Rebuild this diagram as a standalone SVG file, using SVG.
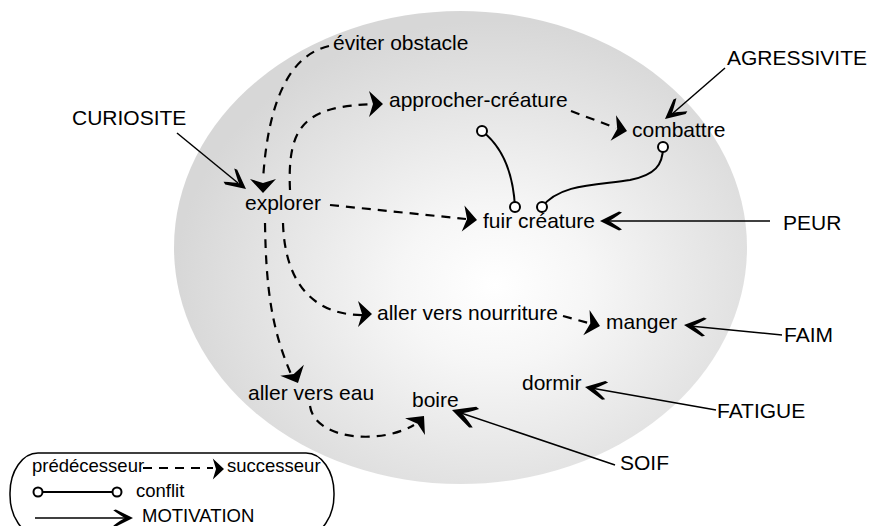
<svg xmlns="http://www.w3.org/2000/svg" xmlns:xlink="http://www.w3.org/1999/xlink" width="870" height="526" viewBox="0 0 870 526">
  <style>
    text { font-family: "Liberation Sans", Arial, sans-serif; font-size: 21px; fill: #000; }
    .legend text { font-size: 18.5px; }
    .succ { fill: none; stroke: #000; stroke-width: 2.2; stroke-dasharray: 9 7; }
    .motiv { fill: none; stroke: #000; stroke-width: 1.5; }
    .conf { fill: none; stroke: #000; stroke-width: 2; }
    .end { fill: #fff; stroke: #000; stroke-width: 2; }
    .head { fill: #000; stroke: none; }
  </style>
  <defs>
    <radialGradient id="bg" cx="0.56" cy="0.58" r="0.56">
      <stop offset="0" stop-color="#ffffff"/>
      <stop offset="0.3" stop-color="#f6f6f6"/>
      <stop offset="1" stop-color="#d7d7d7"/>
    </radialGradient>
    <!-- arrowhead of a successor link, tip at origin, pointing along +x -->
    <path id="dh" d="M0,0 L-14,-13 L-10,0 L-14,13 Z"/>
    <!-- barbed arrowhead of a motivation link -->
    <path id="mh" d="M0,0 L-19,-9.5 L-22,-8.5 Q-13,-2 -9,0 Q-13,2 -22,8.5 L-19,9.5 Z"/>
  </defs>

  <!-- behaviour space -->
  <ellipse cx="460.5" cy="247.5" rx="286.5" ry="236.5" fill="url(#bg)"/>

  <g id="connectors">
    <!-- successor links -->
    <path class="succ" d="M329,46 C290,55 268,100 263,180"/>
    <path class="succ" d="M290,190 C287,125 305,106 375,104"/>
    <path class="succ" d="M571,111 L616,128"/>
    <path class="succ" d="M330,205 L466,219"/>
    <path class="succ" d="M283,223 C285,290 320,316 364,315"/>
    <path class="succ" d="M563,316 L592,324"/>
    <path class="succ" d="M265,223 C266,290 272,330 291,374"/>
    <path class="succ" d="M310,406 C315,440 380,445 414,425"/>
    <use href="#dh" class="head" transform="translate(263,193) rotate(90)"/>
    <use href="#dh" class="head" transform="translate(383,104)"/>
    <use href="#dh" class="head" transform="translate(627,131) rotate(12)"/>
    <use href="#dh" class="head" transform="translate(477,220) rotate(6)"/>
    <use href="#dh" class="head" transform="translate(372,314)"/>
    <use href="#dh" class="head" transform="translate(600,326) rotate(14)"/>
    <use href="#dh" class="head" transform="translate(298,383) rotate(65)"/>
    <use href="#dh" class="head" transform="translate(424,416) rotate(-50)"/>

    <!-- conflicts -->
    <path class="conf" d="M482,131 C500,145 513,170 515,207"/>
    <path class="conf" d="M542,207 C560,183 600,185 630,180 C655,175 663,165 663,147"/>
    <circle class="end" cx="482" cy="131" r="5"/>
    <circle class="end" cx="515" cy="207" r="5"/>
    <circle class="end" cx="542" cy="207" r="5"/>
    <circle class="end" cx="663" cy="147" r="5"/>

    <!-- motivations -->
    <path class="motiv" d="M177,133 L238,183"/>
    <path class="motiv" d="M725,68 L672,114"/>
    <path class="motiv" d="M770,221 L606,221"/>
    <path class="motiv" d="M782,335 L690,326"/>
    <path class="motiv" d="M716,410 L591,388"/>
    <path class="motiv" d="M615,465 L458,412"/>
    <use href="#mh" class="head" transform="translate(246,189) rotate(39)"/>
    <use href="#mh" class="head" transform="translate(665,119) rotate(140)"/>
    <use href="#mh" class="head" transform="translate(600,221) rotate(180)"/>
    <use href="#mh" class="head" transform="translate(684,325) rotate(186)"/>
    <use href="#mh" class="head" transform="translate(585,387) rotate(190)"/>
    <use href="#mh" class="head" transform="translate(452,410) rotate(199) scale(1.15)"/>
  </g>

  <!-- behaviours -->
  <g id="eviter-obstacle"><text x="333" y="50">éviter obstacle</text></g>
  <g id="approcher-creature"><text x="389" y="107">approcher-créature</text></g>
  <g id="combattre"><text x="632" y="137">combattre</text></g>
  <g id="explorer"><text x="245" y="210">explorer</text></g>
  <g id="fuir-creature"><text x="483" y="228">fuir créature</text></g>
  <g id="aller-vers-nourriture"><text x="377" y="320">aller vers nourriture</text></g>
  <g id="manger"><text x="606" y="329">manger</text></g>
  <g id="dormir"><text x="522" y="390">dormir</text></g>
  <g id="aller-vers-eau"><text x="248" y="400">aller vers eau</text></g>
  <g id="boire"><text x="412" y="407">boire</text></g>

  <!-- motivations -->
  <g id="curiosite"><text x="72" y="125">CURIOSITE</text></g>
  <g id="agressivite"><text x="727" y="65">AGRESSIVITE</text></g>
  <g id="peur"><text x="783" y="230">PEUR</text></g>
  <g id="faim"><text x="784" y="342">FAIM</text></g>
  <g id="fatigue"><text x="717" y="418">FATIGUE</text></g>
  <g id="soif"><text x="620" y="470">SOIF</text></g>

  <!-- key -->
  <g id="legend" class="legend">
    <rect x="10" y="453" width="324" height="82" rx="28" ry="40" fill="#fff" stroke="#000" stroke-width="1.5"/>
    <text x="32" y="472">prédécesseur</text>
    <path class="succ" d="M143,468 L213,468" stroke-dasharray="7 6" stroke-width="2"/>
    <use href="#dh" class="head" transform="translate(224,469) scale(0.8)"/>
    <text x="227" y="472">successeur</text>
    <path class="conf" d="M38,492 L117,492"/>
    <circle class="end" cx="38" cy="492" r="4.5"/>
    <circle class="end" cx="117" cy="492" r="4.5"/>
    <text x="136" y="497">conflit</text>
    <path class="motiv" d="M35,518 L125,518"/>
    <use href="#mh" class="head" transform="translate(133,518) scale(0.9)"/>
    <text x="142" y="522">MOTIVATION</text>
  </g>
</svg>
